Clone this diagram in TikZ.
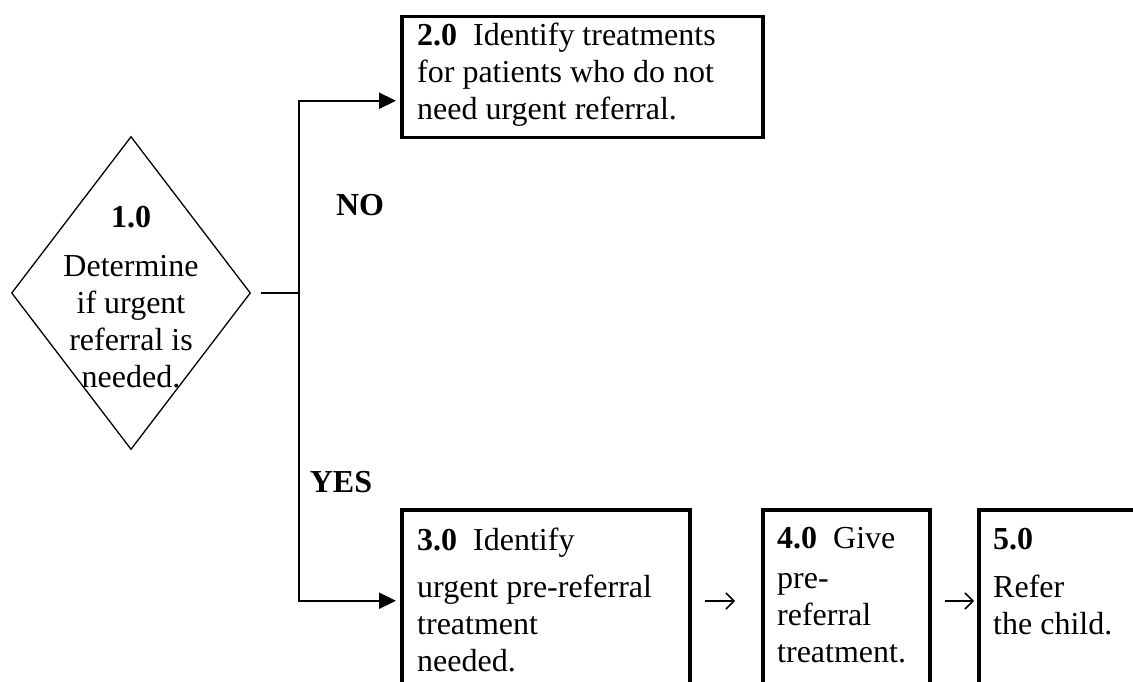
\documentclass[tikz,border=0pt]{standalone}
\usepackage{fontspec}
\setmainfont{Liberation Serif}
\usetikzlibrary{shapes.geometric,arrows.meta}
\tikzset{
  box/.style={draw, line width=3.5pt, inner sep=0pt, anchor=north west},
  conn/.style={line width=2.2pt},
  arr/.style={conn, -{Triangle[length=17pt,width=16pt]}, shorten >=4pt},
  glypharrow/.style={line width=1.5pt, -{Straight Barb[length=8pt,width=16pt]}},
  txt/.style={inner sep=0pt, font=\fontsize{32pt}{37pt}\selectfont},
  lbl/.style={inner sep=0pt, font=\fontsize{32pt}{37pt}\selectfont\bfseries}
}
\begin{document}
\begin{tikzpicture}[x=1pt,y=-1pt]
\useasboundingbox (0,0) rectangle (1133,682);
\clip (0,0) rectangle (1133,682);
\fill[white] (0,0) rectangle (1133,682);
% decision
\node[diamond, draw, line width=1.3pt, minimum width=239pt, minimum height=313pt, inner sep=0pt] (d) at (131,293) {};
\node[txt, align=center, anchor=north] (dt) at (131,206) {\textbf{1.0}\\[12pt]Determine\\if urgent\\referral is\\needed.};
% boxes
\node[box, minimum width=361pt, minimum height=121pt] (b2) at (400,15) {};
\node[txt, align=left, anchor=north west] (b2t) at (417,23) {\textbf{2.0}\ \ Identify treatments\\for patients who do not\\need urgent referral.};
\node[box, minimum width=288pt, minimum height=182pt] (b3) at (400,508) {};
\node[txt, align=left, anchor=north west] (b3t) at (417,528) {\textbf{3.0}\ \ Identify\\[10pt]urgent pre-referral\\treatment\\needed.};
\node[box, minimum width=167pt, minimum height=182pt] (b4) at (761,508) {};
\node[txt, align=left, anchor=north west] (b4t) at (777,527) {\textbf{4.0}\ \ Give\\[3pt]pre-\\referral\\treatment.};
\node[box, minimum width=200pt, minimum height=182pt] (b5) at (977,508) {};
\node[txt, align=left, anchor=north west] (b5t) at (993,528) {\textbf{5.0}\\[11pt]Refer\\the child.};
% arrow glyphs between boxes
\coordinate (a34s) at (705,601);
\coordinate (a34e) at (735,601);
\coordinate (a45s) at (945,601);
\coordinate (a45e) at (974,601);
\draw[glypharrow] (a34s) -- (a34e);
\draw[glypharrow] (a45s) -- (a45e);
% labels
\node[lbl] (no) at (360,205) {NO};
\node[lbl] (yes) at (341,482) {YES};
% connectors
\coordinate (j) at (299,293);
\draw[conn] ([xshift=10pt]d.east) -- (j);
\draw[arr] (j) |- ([yshift=-23.5pt]b2.west);
\draw[arr] (j) |- (b3.west);
\end{tikzpicture}
\end{document}
